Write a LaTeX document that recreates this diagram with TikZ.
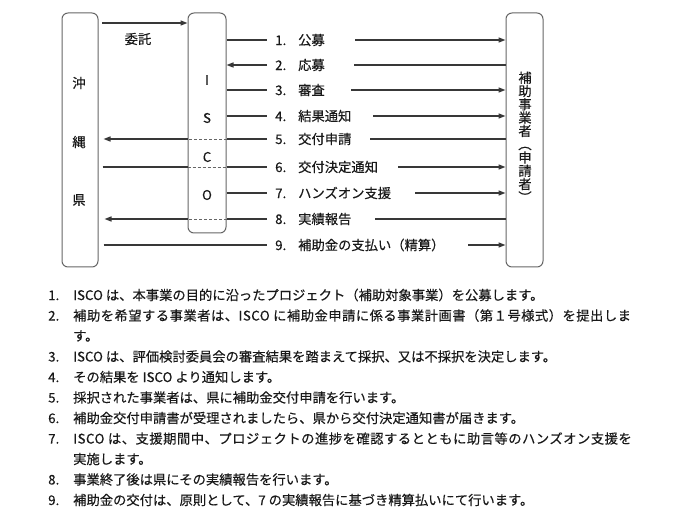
\documentclass[tikz,border=0pt]{standalone}
\usepackage{fontspec}
\setmainfont{Noto Sans CJK JP}[FakeBold=0.35]
\usetikzlibrary{arrows.meta,calc}
\definecolor{txt}{gray}{0.1}
\definecolor{ln}{gray}{0.22}
\definecolor{bx}{gray}{0.40}
\begin{document}
\begin{tikzpicture}[x=1pt,y=-1pt,
  box/.style={draw=bx,line width=1pt,rounded corners=6pt,inner sep=0pt},
  lbl/.style={inner sep=0pt,anchor=west,text=txt,font=\fontsize{13.3}{16}\selectfont},
  ch/.style={inner sep=0pt,text=txt,font=\fontsize{13.3}{16}\selectfont},
  conn/.style={draw=ln,line width=1.3pt},
  arr/.style={conn,-{Triangle[length=7pt,width=5pt]}},
  dsh/.style={draw=bx,line width=0.8pt,dash pattern=on 3pt off 2pt}]
\useasboundingbox (0,0) rectangle (675,526);
% boxes
\node[box,minimum width=36pt,minimum height=254pt] (K) at (80,140) {};
\node[box,minimum width=38pt,minimum height=220pt] (I) at (207,123) {};
\node[box,minimum width=37pt,minimum height=254pt] (H) at (524.5,140) {};
% box texts
\node[ch] (k1) at (79,83) {沖};
\node[ch] (k2) at (79,142) {縄};
\node[ch] (k3) at (79,200) {県};
\node[ch] (i1) at (207,80) {I};
\node[ch] (i2) at (207,118) {S};
\node[ch] (i3) at (207,157) {C};
\node[ch] (i4) at (207,195) {O};
\node[ch,align=center,font=\fontsize{13.3}{13.3}\selectfont] (h1) at (525,137)
  {補\\助\\事\\業\\者\\︵\\申\\請\\者\\︶};
% entrust
\coordinate (e0) at (102,23);
\draw[arr] (e0) -- (e0 -| I.west);
\node[ch] (eL) at (138,39) {委託};
% row labels
\node[lbl] (t1) at (275,40) {\makebox[23pt][l]{1.}公募};
\node[lbl] (t2) at (275,65) {\makebox[23pt][l]{2.}応募};
\node[lbl] (t3) at (275,90) {\makebox[23pt][l]{3.}審査};
\node[lbl] (t4) at (275,116) {\makebox[23pt][l]{4.}結果通知};
\node[lbl] (t5) at (275,139) {\makebox[23pt][l]{5.}交付申請};
\node[lbl] (t6) at (275,167) {\makebox[23pt][l]{6.}交付決定通知};
\node[lbl] (t7) at (275,193) {\makebox[23pt][l]{7.}ハンズオン支援};
\node[lbl] (t8) at (275,219) {\makebox[23pt][l]{8.}実績報告};
\node[lbl] (t9) at (275,245) {\makebox[23pt][l]{9.}補助金の支払い（精算）};
% left-side end coordinates
\foreach \i/\y in {1/40,2/65,3/90,4/116,5/139,6/167,7/193,8/219,9/245}
  \coordinate (L\i) at (267,\y);
% right-side start coordinates
\coordinate (R1) at (355,40);
\coordinate (R2) at (354,65);
\coordinate (R3) at (351,90);
\coordinate (R4) at (373,116);
\coordinate (R5) at (370,139);
\coordinate (R6) at (398,167);
\coordinate (R7) at (415,193);
\coordinate (R8) at (375,219);
\coordinate (R9) at (468,245);
% left segments
\draw[conn] (L1 -| I.east) -- (L1);
\draw[arr] (L2) -- (L2 -| I.east);
\draw[conn] (L3 -| I.east) -- (L3);
\draw[conn] (L4 -| I.east) -- (L4);
\draw[conn] (L5) -- (L5 -| I.east);
\draw[dsh] (L5 -| I.east) -- (L5 -| I.west);
\draw[arr,shorten >=5pt] (L5 -| I.west) -- (L5 -| K.east);
\draw[conn,shorten <=4pt] (L6 -| K.east) -- (L6 -| I.west);
\draw[dsh] (L6 -| I.west) -- (L6 -| I.east);
\draw[conn] (L6 -| I.east) -- (L6);
\draw[conn] (L7 -| I.east) -- (L7);
\draw[conn] (L8) -- (L8 -| I.east);
\draw[dsh] (L8 -| I.east) -- (L8 -| I.west);
\draw[arr,shorten >=6pt] (L8 -| I.west) -- (L8 -| K.east);
\draw[conn,shorten <=5pt] (L9 -| K.east) -- (L9);
% right segments
\draw[arr] (R1) -- (R1 -| H.west);
\draw[conn] (R2) -- (R2 -| H.west);
\draw[arr] (R3) -- (R3 -| H.west);
\draw[arr] (R4) -- (R4 -| H.west);
\draw[conn] (R5) -- (R5 -| H.west);
\draw[arr] (R6) -- (R6 -| H.west);
\draw[arr] (R7) -- (R7 -| H.west);
\draw[conn] (R8) -- (R8 -| H.west);
\draw[arr] (R9) -- (R9 -| H.west);
% list
\node[lbl] (n1) at (48,295) {\makebox[25pt][l]{1.}ISCO は、本事業の目的に沿ったプロジェクト（補助対象事業）を公募します。};
\node[lbl] (n2) at (48,315.5) {\makebox[25pt][l]{2.}{\addfontfeatures{LetterSpace=3.6}補助を希望する事業者は、ISCO に補助金申請に係る事業計画書（第１号様式）を提出しま}};
\node[lbl] (n2b) at (73,336) {す。};
\node[lbl] (n3) at (48,356.5) {\makebox[25pt][l]{3.}ISCO は、評価検討委員会の審査結果を踏まえて採択、又は不採択を決定します。};
\node[lbl] (n4) at (48,377) {\makebox[25pt][l]{4.}その結果を ISCO より通知します。};
\node[lbl] (n5) at (48,397.5) {\makebox[25pt][l]{5.}採択された事業者は、県に補助金交付申請を行います。};
\node[lbl] (n6) at (48,418) {\makebox[25pt][l]{6.}補助金交付申請書が受理されましたら、県から交付決定通知書が届きます。};
\node[lbl] (n7) at (48,438.5) {\makebox[25pt][l]{7.}{\addfontfeatures{LetterSpace=3.8}ISCO は、支援期間中、プロジェクトの進捗を確認するとともに助言等のハンズオン支援を}};
\node[lbl] (n7b) at (73,459) {実施します。};
\node[lbl] (n8) at (48,479.5) {\makebox[25pt][l]{8.}事業終了後は県にその実績報告を行います。};
\node[lbl] (n9) at (48,500) {\makebox[25pt][l]{9.}補助金の交付は、原則として、7 の実績報告に基づき精算払いにて行います。};
\end{tikzpicture}
\end{document}
